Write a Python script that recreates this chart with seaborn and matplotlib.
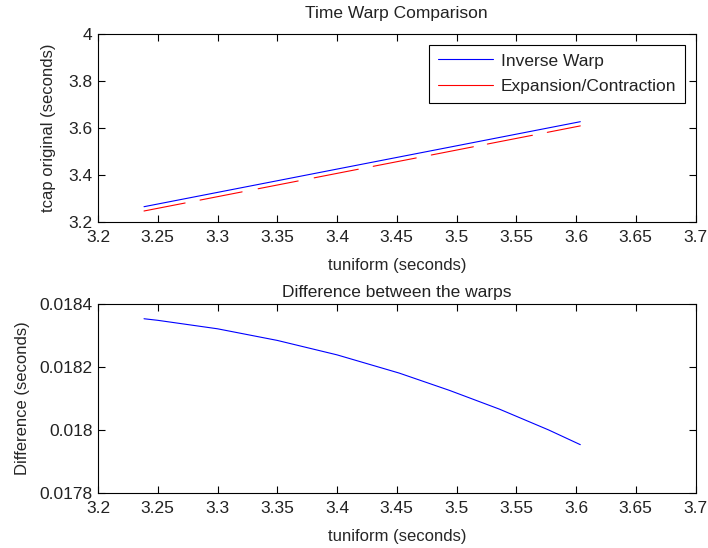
import numpy as np
import pandas as pd
import matplotlib
matplotlib.use("Agg")
import matplotlib.pyplot as plt
from matplotlib.lines import Line2D
from matplotlib.ticker import FuncFormatter, FixedLocator
import seaborn as sns

# --- data -------------------------------------------------------------------
# Inverse warp: warped time against uniform time
inverse_t = [3.2385, 3.25, 3.30, 3.35, 3.40, 3.452, 3.494, 3.536, 3.577, 3.6036]
inverse_v = [3.2652, 3.2766, 3.3262, 3.3758, 3.4255, 3.4771, 3.5187, 3.5604, 3.6011, 3.6275]

# Expansion/contraction warp, drawn as separate pieces (one id per piece)
expansion_t = [3.2385, 3.2729, 3.2854, 3.3206, 3.3340, 3.3675, 3.3809, 3.4178,
               3.4303, 3.4663, 3.4789, 3.5141, 3.5258, 3.5635, 3.5760, 3.6036]
expansion_v = [3.2469, 3.2810, 3.2934, 3.3284, 3.3417, 3.3749, 3.3882, 3.4249,
               3.4373, 3.4730, 3.4855, 3.5206, 3.5322, 3.5696, 3.5821, 3.6096]
expansion_piece = [1, 1, 2, 2, 3, 3, 4, 4, 5, 5, 6, 6, 7, 7, 8, 8]

# Difference between the two warps
diff_t = [3.2385, 3.25, 3.30, 3.35, 3.40, 3.452, 3.494, 3.536, 3.577, 3.6036]
diff_v = [0.018354, 0.018349, 0.018322, 0.018285, 0.018239, 0.018181,
          0.018126, 0.018066, 0.018000, 0.017953]

x_ticks = [3.2, 3.25, 3.3, 3.35, 3.4, 3.45, 3.5, 3.55, 3.6, 3.65, 3.7]
top_y_ticks = [3.2, 3.4, 3.6, 3.8, 4.0]
bottom_y_ticks = [0.0178, 0.018, 0.0182, 0.0184]

series_names = ["Inverse Warp", "Expansion/Contraction"]
series_colors = ["#0000ff", "#ff0000"]

# --- style ------------------------------------------------------------------
sns.set_theme(style="white")
plt.rcParams["font.family"] = ["Liberation Sans", "DejaVu Sans"]
plt.rcParams["font.size"] = 12.5
plt.rcParams["axes.linewidth"] = 0.8
plt.rcParams["axes.edgecolor"] = "black"
plt.rcParams["text.color"] = "#222222"

inverse_df = pd.DataFrame({"t": inverse_t, "v": inverse_v})
expansion_df = pd.DataFrame({"t": expansion_t, "v": expansion_v, "piece": expansion_piece})
diff_df = pd.DataFrame({"t": diff_t, "v": diff_v})

fig = plt.figure(figsize=(7.08, 5.48), dpi=100)
left, right = 98 / 708, 695.5 / 708
ax1 = fig.add_axes([left, 1 - 222 / 548, right - left, (222 - 34.3) / 548])
ax2 = fig.add_axes([left, 1 - 492.7 / 548, right - left, (492.7 - 304.3) / 548])

sns.lineplot(data=inverse_df, x="t", y="v", color=series_colors[0],
             linewidth=0.8, ax=ax1, sort=False)
sns.lineplot(data=expansion_df, x="t", y="v", units="piece", estimator=None,
             color=series_colors[1], linewidth=0.8, ax=ax1, sort=False)
sns.lineplot(data=diff_df, x="t", y="v", color=series_colors[0],
             linewidth=0.8, ax=ax2, sort=False)

fmt = FuncFormatter(lambda v, p: f"{v:g}")

for ax, yt in ((ax1, top_y_ticks), (ax2, bottom_y_ticks)):
    ax.set_xlim(x_ticks[0], x_ticks[-1])
    ax.set_ylim(yt[0], yt[-1])
    ax.xaxis.set_major_locator(FixedLocator(x_ticks))
    ax.yaxis.set_major_locator(FixedLocator(yt))
    ax.xaxis.set_major_formatter(fmt)
    ax.yaxis.set_major_formatter(fmt)
    ax.tick_params(direction="in", length=5, width=0.8, colors="black",
                   labelcolor="#222222", top=True, right=True,
                   bottom=True, left=True, labelsize=12.5)
    ax.tick_params(axis="x", pad=6)
    ax.tick_params(axis="y", pad=4)
    for s in ax.spines.values():
        s.set_visible(True)
        s.set_color("black")
    ax.set_xlabel("tuniform (seconds)", labelpad=9)

ax1.set_ylabel("tcap original (seconds)", labelpad=9)
ax2.set_ylabel("Difference (seconds)", labelpad=7)
ax1.set_title("Time Warp Comparison", fontsize=12.5, pad=11.5)
ax2.set_title("Difference between the warps", fontsize=12.5, pad=5)

handles = [Line2D([], [], color=c, linewidth=0.8) for c in series_colors]
leg = ax1.legend(handles, series_names, loc="upper right", frameon=True,
                 fancybox=False, shadow=False, framealpha=1, edgecolor="black",
                 handlelength=3.2, handletextpad=0.45, borderaxespad=0.6,
                 labelspacing=0.6, borderpad=0.5, fontsize=12.5)
leg.get_frame().set_linewidth(0.8)

fig.savefig("out.png", dpi=100)
